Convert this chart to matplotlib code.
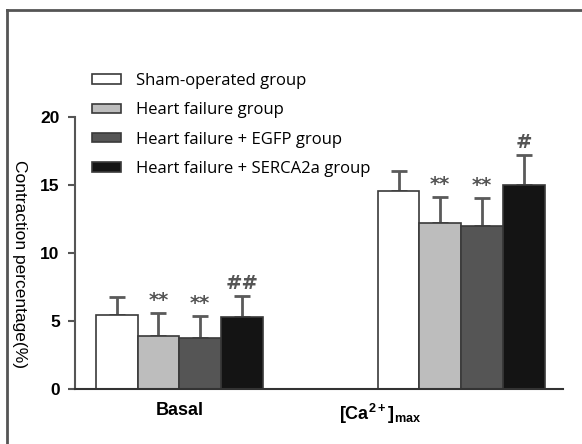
import matplotlib.pyplot as plt
from matplotlib.patches import Patch
from matplotlib.lines import Line2D

plt.rcParams["mathtext.default"] = "regular"

# --- data ---
groups = ["Sham-operated group", "Heart failure group",
          "Heart failure + EGFP group", "Heart failure + SERCA2a group"]
colors = ["#ffffff", "#bdbdbd", "#555555", "#141414"]

basal_mean = [5.45, 3.92, 3.74, 5.3]
basal_err = [1.3, 1.7, 1.65, 1.55]
basal_mark = ["", "**", "**", "##"]

ca_mean = [14.55, 12.2, 12.0, 15.0]
ca_err = [1.45, 1.95, 2.05, 2.2]
ca_mark = ["", "**", "**", "#"]

basal_x = [1, 2, 3, 4]
ca_x = [7.75, 8.75, 9.75, 10.75]

fig = plt.figure(figsize=(5.82, 4.44), dpi=100)
ax = fig.add_axes([75 / 582, 55 / 444, 488 / 582, 272 / 444])

edge = "#3a3a3a"
err_c = "#5a5a5a"
for xs, means, errs, marks in [(basal_x, basal_mean, basal_err, basal_mark),
                               (ca_x, ca_mean, ca_err, ca_mark)]:
    ax.bar(xs, means, width=1.0, color=colors, edgecolor=edge, linewidth=1.2, zorder=2)
    ax.errorbar(xs, means, yerr=[[0] * 4, errs], fmt="none", ecolor=err_c,
                elinewidth=2, capsize=6, capthick=2, zorder=1)
    for x, m, e, t in zip(xs, means, errs, marks):
        if t:
            ax.annotate(t, (x, m + e), xytext=(0, 2), textcoords="offset points",
                        ha="center", va="bottom", fontsize=14, fontweight="bold",
                        color="#555555", family="DejaVu Sans")

ax.set_xlim(0, 11.69)
ax.set_ylim(0, 20)
ax.set_yticks([0, 5, 10, 15, 20])
ax.set_xticks([])
for s in ["top", "right"]:
    ax.spines[s].set_visible(False)
ax.spines["left"].set_color("#555555")
ax.spines["left"].set_linewidth(1.5)
ax.spines["bottom"].set_color("#333333")
ax.spines["bottom"].set_linewidth(1.5)
ax.tick_params(axis="y", length=5, width=1.5, color="#555555", pad=6)
for lab in ax.get_yticklabels():
    lab.set_fontfamily("Liberation Sans")
    lab.set_fontweight("bold")
    lab.set_fontsize(12.5)

# group labels
ax.text(2.5, -1.55, "Basal", ha="center", va="center", fontsize=13,
        fontweight="bold", family="Liberation Sans")
ax.text(7.3, -1.8, "[Ca$^{2+}$]$_{max}$", ha="center", va="center", fontsize=13,
        fontweight="bold", family="Liberation Sans")

fig.text(19 / 582, 1 - 264 / 444, "Contraction percentage(%)", rotation=270,
         ha="center", va="center", fontsize=12.5, family="Liberation Sans")

# legend
handles = [Patch(facecolor=c, edgecolor=edge, linewidth=1.2) for c in colors]
fig.legend(handles, groups, loc="upper left", bbox_to_anchor=(92 / 582, 1 - 73 / 444),
           frameon=False, prop={"family": "Open Sans", "size": 12},
           handlelength=1.75, handleheight=0.5, labelspacing=0.8,
           handletextpad=0.9, borderpad=0, borderaxespad=0)

# outer frame (top and left edge visible)
fig.add_artist(Line2D([7 / 582, 1], [1 - 10 / 444] * 2, color="#555555", lw=2))
fig.add_artist(Line2D([7 / 582] * 2, [0, 1 - 10 / 444], color="#555555", lw=2))

fig.savefig("out.png", dpi=100)
